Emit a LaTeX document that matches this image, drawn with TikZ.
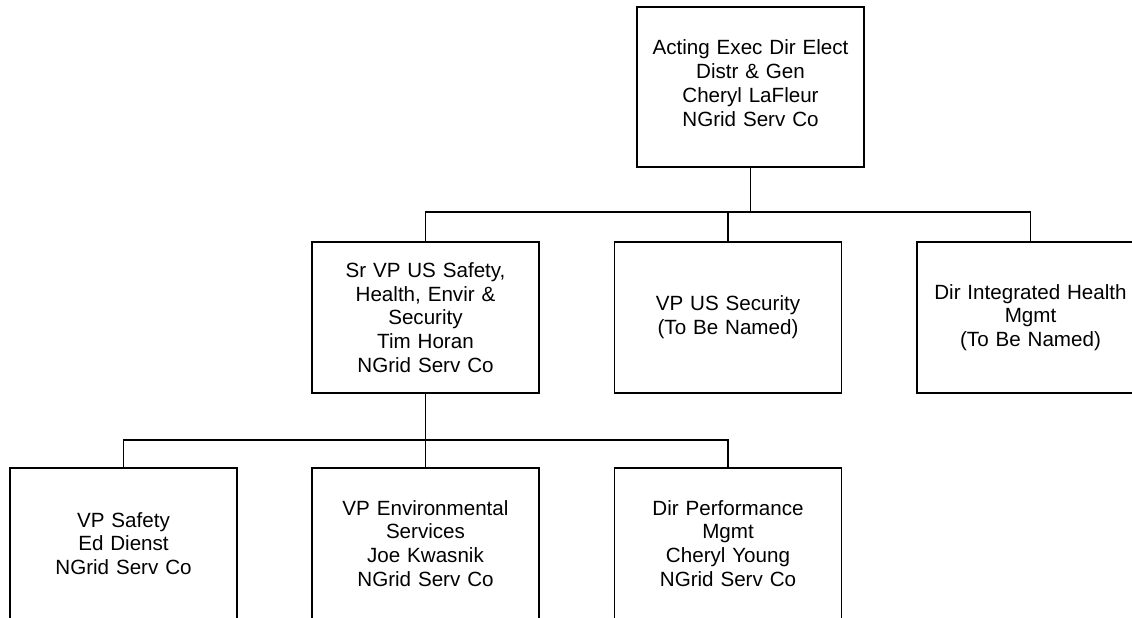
\documentclass[tikz,border=0pt]{standalone}
\usepackage{fontspec}
\setmainfont{Liberation Sans}
\usepackage{tikz}
\usetikzlibrary{calc}

\tikzset{
  unit/.style={draw, line width=1.4pt, minimum width=227pt, minimum height=151pt,
    text width=224pt, align=center, inner sep=0pt,
    font=\fontsize{20.6}{23.8}\selectfont},
  link/.style={line width=1.4pt}
}

\begin{document}
\begin{tikzpicture}[x=1pt, y=-1pt]
\useasboundingbox (0, 0) rectangle (1132, 618);
\clip (0, 0) rectangle (1132, 618);
\node[unit, minimum height=160pt] (exec) at (750.5, 87) {Acting Exec Dir Elect\\Distr \& Gen\\Cheryl LaFleur\\NGrid Serv Co\\[-15.8pt]\mbox{}};
\node[unit] (shes) at (425.5, 317.5) {Sr VP US Safety,\\Health, Envir \&\\Security\\Tim Horan\\NGrid Serv Co};
\node[unit] (secu) at (728, 317.5) {VP US Security\\(To Be Named)};
\node[unit] (hlth) at (1030.5, 317.5) {Dir Integrated Health\\Mgmt\\(To Be Named)};
\node[unit] (safe) at (123.5, 543.5) {VP Safety\\Ed Dienst\\NGrid Serv Co};
\node[unit] (envs) at (425.5, 543.5) {VP Environmental\\Services\\Joe Kwasnik\\NGrid Serv Co};
\node[unit] (perf) at (728, 543.5) {Dir Performance\\Mgmt\\Cheryl Young\\NGrid Serv Co};
\coordinate (bus1) at (750.5, 212);
\coordinate (bus2) at (425.5, 440);
\draw[link] (exec.south) -- (exec.south |- bus1);
\draw[link] (shes.north) |- (hlth.north |- bus1) -- (hlth.north);
\draw[link] (secu.north) -- (secu.north |- bus1);
\draw[link] (shes.south) -- (shes.south |- bus2);
\draw[link] (safe.north) |- (perf.north |- bus2) -- (perf.north);
\draw[link] (envs.north) -- (envs.north |- bus2);
\end{tikzpicture}
\end{document}
